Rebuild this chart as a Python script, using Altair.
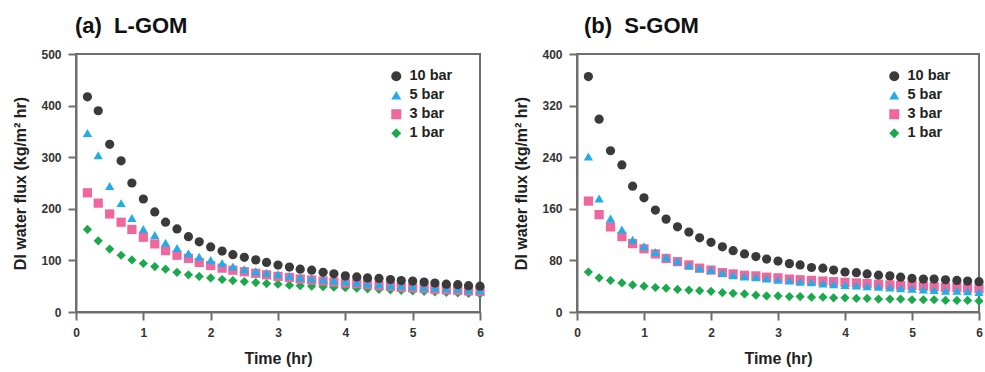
import altair as alt
import pandas as pd

# ---- data ----
TIME = [0.17, 0.33, 0.5, 0.67, 0.83, 1.0, 1.17, 1.33, 1.5, 1.67, 1.83, 2.0,
        2.17, 2.33, 2.5, 2.67, 2.83, 3.0, 3.17, 3.33, 3.5, 3.67, 3.83, 4.0,
        4.17, 4.33, 4.5, 4.67, 4.83, 5.0, 5.17, 5.33, 5.5, 5.67, 5.83, 6.0]

SERIES = ["10 bar", "5 bar", "3 bar", "1 bar"]
COLORS = ["#3a3a3a", "#22ade6", "#f0679e", "#1aa94c"]
SHAPES = ["circle", "triangle-up", "square", "diamond"]

# (a) L-GOM
L_10 = [417, 390, 325, 293, 250, 219, 194, 174, 161, 146, 136, 126, 118, 111, 106, 101, 96, 91,
        87, 83, 81, 77, 74, 70, 68, 66, 65, 63, 61, 60, 58, 56, 54, 53, 51, 50]
L_5 = [347, 304, 244, 211, 182, 161, 149, 134, 124, 114, 107, 101, 95, 88, 83, 79, 76, 73,
       70, 67, 65, 63, 61, 59, 57, 55, 54, 52, 51, 50, 48, 47, 46, 45, 43, 42]
L_3 = [231, 211, 190, 174, 160, 145, 132, 119, 110, 104, 96, 90, 85, 81, 78, 75, 72, 69,
       67, 64, 62, 60, 58, 56, 55, 53, 51, 50, 48, 47, 46, 44, 43, 42, 41, 40]
L_1 = [160, 138, 122, 110, 101, 94, 88, 83, 77, 72, 69, 66, 63, 61, 59, 57, 55, 54,
       52, 51, 50, 49, 48, 47, 46, 45, 44, 43, 42, 41, 40, 39, 38, 37, 36, 35]

# (b) S-GOM
S_10 = [365, 299, 250, 228, 195, 177, 158, 144, 132, 124, 115, 108, 101, 95, 90, 86, 82, 79,
        75, 73, 69, 68, 65, 62, 61, 59, 57, 56, 54, 52, 51, 51, 50, 49, 48, 47]
S_5 = [241, 176, 145, 128, 112, 102, 93, 85, 79, 72, 68, 65, 61, 57, 55, 54, 52, 50,
       49, 47, 46, 44, 43, 42, 41, 40, 39, 38, 37, 36, 35, 34, 33, 33, 32, 31]
S_3 = [172, 151, 132, 117, 106, 98, 90, 83, 78, 73, 68, 65, 61, 59, 57, 56, 54, 53,
       51, 50, 49, 48, 47, 46, 45, 44, 43, 42, 41, 41, 40, 39, 38, 38, 37, 36]
S_1 = [62, 53, 49, 45, 42, 40, 38, 37, 35, 34, 33, 32, 30, 29, 28, 26, 25, 25,
       24, 24, 23, 23, 22, 22, 21, 21, 20, 20, 20, 19, 19, 19, 18, 18, 18, 17]

X_TICKS = [0, 1, 2, 3, 4, 5, 6]
L_TICKS = [0, 100, 200, 300, 400, 500]
S_TICKS = [0, 80, 160, 240, 320, 400]
Y_TITLE = "DI water flux (kg/m\u00b2 hr)"
X_TITLE = "Time (hr)"

FONT = "Liberation Sans"
AXIS_GRAY = "#6e6e6e"


def make_df(s10, s5, s3, s1):
    rows = []
    # drawing order: 1 bar at the back, 10 bar on top
    for draw, (name, vals) in enumerate([("1 bar", s1), ("3 bar", s3), ("5 bar", s5), ("10 bar", s10)]):
        for t, v in zip(TIME, vals):
            rows.append({"Time": t, "Flux": v, "Pressure": name, "draw": draw})
    return pd.DataFrame(rows)


def panel(df, ymax, yticks, title, width, lx, ly, title_dx):
    legend = alt.Legend(
        orient="none", legendX=lx, legendY=ly, title=None,
        labelFont=FONT, labelFontSize=14.5, labelFontWeight="bold", labelColor="#222222",
        symbolSize=100, symbolStrokeWidth=0, rowPadding=4, padding=0, labelOffset=6,
    )
    return alt.Chart(df, title=alt.TitleParams(
        title, anchor="start", frame="group", fontSize=22, font=FONT, fontWeight="bold",
        color="#111111", offset=10, dx=title_dx,
    )).mark_point(filled=True, size=85, opacity=1).encode(
        x=alt.X("Time:Q", scale=alt.Scale(domain=[0, 6], nice=False),
                axis=alt.Axis(values=X_TICKS, title=X_TITLE, format="d", labelFlush=False)),
        y=alt.Y("Flux:Q", scale=alt.Scale(domain=[0, ymax], nice=False),
                axis=alt.Axis(values=yticks, title=Y_TITLE, format="d")),
        color=alt.Color("Pressure:N", scale=alt.Scale(domain=SERIES, range=COLORS), legend=legend),
        shape=alt.Shape("Pressure:N", scale=alt.Scale(domain=SERIES, range=SHAPES), legend=legend),
        order=alt.Order("draw:Q"),
    ).properties(width=width, height=258)


left = panel(make_df(L_10, L_5, L_3, L_1), 500, L_TICKS, "(a)\u00a0 L-GOM", 404, 313, 15, -1)
right = panel(make_df(S_10, S_5, S_3, S_1), 400, S_TICKS, "(b)\u00a0 S-GOM", 402, 310, 15, 7)

chart = alt.hconcat(left, right, spacing=26).resolve_scale(
    color="independent", shape="independent", x="independent", y="independent"
).properties(
    padding={"left": 11, "top": 14, "right": 0, "bottom": 0},
    background="white",
).configure(font=FONT).configure_view(
    stroke=AXIS_GRAY, strokeWidth=2,
).configure_axis(
    grid=False,
    domainColor=AXIS_GRAY, domainWidth=2,
    tickColor=AXIS_GRAY, tickWidth=2, tickSize=8,
    labelFont=FONT, labelFontSize=12, labelFontWeight="bold", labelColor="#333333",
    labelPadding=7,
    titleFont=FONT, titleFontSize=16, titleFontWeight="bold", titleColor="#222222",
    titlePadding=12,
)

chart.save("out.html", embed_options={"renderer": "svg", "actions": False})
